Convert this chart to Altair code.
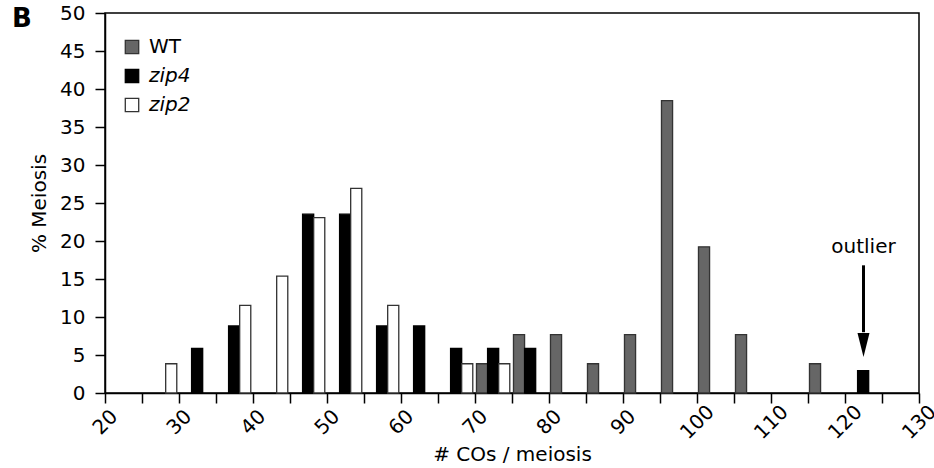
import altair as alt
import pandas as pd

series = ["WT", "zip4", "zip2"]
fills = ["#666666", "#000000", "#ffffff"]
strokes = ["#333333", "#000000", "#333333"]

wt_bins = [70, 75, 80, 85, 90, 95, 100, 105, 115]
wt_pct = [3.85, 7.69, 7.69, 3.85, 7.69, 38.46, 19.23, 7.69, 3.85]
zip4_bins = [30, 35, 45, 50, 55, 60, 65, 70, 75, 120]
zip4_pct = [5.88, 8.82, 23.53, 23.53, 8.82, 8.82, 5.88, 5.88, 5.88, 2.94]
zip2_bins = [25, 35, 40, 45, 50, 55, 65, 70]
zip2_pct = [3.85, 11.54, 15.38, 23.08, 26.92, 11.54, 3.85, 3.85]

x_ticks = list(range(20, 131, 5))
y_ticks = list(range(0, 51, 5))

ann_label = ["outlier"]
ann_x = [122.5]
ann_text_y = [18.4]
arrow_top = [16.8]
arrow_end = [8.0]
head_y = [6.3]

panel_label = ["B"]

rows = []
for s, bins, vals in [("WT", wt_bins, wt_pct), ("zip4", zip4_bins, zip4_pct), ("zip2", zip2_bins, zip2_pct)]:
    for b, v in zip(bins, vals):
        rows.append({"series": s, "bin": b, "pct": v})
df = pd.DataFrame(rows)

ann = pd.DataFrame({"label": ann_label, "x": ann_x, "ty": ann_text_y,
                    "y1": arrow_top, "y2": arrow_end, "hy": head_y})
panel = pd.DataFrame({"label": panel_label})

FONT = "DejaVu Sans"

xscale = alt.Scale(domain=[20, 130], nice=False, zero=False)
yscale = alt.Scale(domain=[0, 50], nice=False)

xaxis = alt.Axis(
    values=x_ticks, labelExpr="datum.value % 10 == 0 ? datum.label : ''",
    title="# COs / meiosis", labelAngle=-45, labelAlign="center",
    labelBaseline="middle", labelPadding=19, titlePadding=2, labelFlush=False,
    labelOverlap=False)
yaxis = alt.Axis(
    values=y_ticks, title="% Meiosis", labelPadding=10, titlePadding=10,
    labelOverlap=False, labelFlush=False)

legend = alt.Legend(
    title=None, orient="none", legendX=17, legendY=24,
    symbolType="square", symbolSize=180, symbolStrokeWidth=1.3,
    labelFont=FONT, labelFontSize=20, labelColor="black", labelOffset=7,
    rowPadding=9, padding=0,
    labelFontStyle=alt.ExprRef(expr="datum.label == 'WT' ? 'normal' : 'italic'"),
)

bars = alt.Chart(df).transform_calculate(
    x0="datum.bin + (datum.series == 'WT' ? 0.2 : (datum.series == 'zip4' ? 1.7 : 3.2))",
    x1="datum.bin + (datum.series == 'WT' ? 0.2 : (datum.series == 'zip4' ? 1.7 : 3.2)) + 1.5",
).mark_bar(strokeWidth=1.3).encode(
    x=alt.X("x0:Q", scale=xscale, axis=xaxis),
    x2="x1:Q",
    y=alt.Y("pct:Q", scale=yscale, axis=yaxis),
    y2=alt.datum(0),
    fill=alt.Fill("series:N", scale=alt.Scale(domain=series, range=fills), legend=legend),
    stroke=alt.Stroke("series:N", scale=alt.Scale(domain=series, range=strokes), legend=legend),
)

text = alt.Chart(ann).mark_text(font=FONT, fontSize=20, baseline="alphabetic", color="black").encode(
    x=alt.X("x:Q", scale=xscale, axis=xaxis), y=alt.Y("ty:Q", scale=yscale, axis=yaxis),
    text="label:N")

rule = alt.Chart(ann).mark_rule(strokeWidth=3, color="black").encode(
    x=alt.X("x:Q", scale=xscale, axis=xaxis), y=alt.Y("y1:Q", scale=yscale, axis=yaxis),
    y2="y2:Q")

head = alt.Chart(ann).mark_point(shape="M-0.5,-1L0.5,-1L0,1Z", filled=True, size=576,
                                 color="black", opacity=1, strokeWidth=0).encode(
    x=alt.X("x:Q", scale=xscale, axis=xaxis), y=alt.Y("hy:Q", scale=yscale, axis=yaxis))

blabel = alt.Chart(panel).mark_text(font=FONT, fontSize=26, fontWeight="bold", align="left",
                                    baseline="alphabetic", color="black").encode(
    x=alt.value(-93), y=alt.value(14), text="label:N")

chart = alt.layer(bars, rule, head, text, blabel).properties(
    width=814, height=380,
    autosize=alt.AutoSizeParams(type="none"),
    padding={"left": 105, "top": 13, "right": 15, "bottom": 75},
    background="white",
).configure_axis(
    domainColor="black", domainWidth=1.5, tickColor="black", tickWidth=1.5, tickSize=10,
    labelFont=FONT, labelFontSize=20, labelColor="black",
    titleFont=FONT, titleFontSize=20, titleFontWeight="normal", titleColor="black",
    grid=False,
).configure_view(stroke="black", strokeWidth=1.5)

chart.save("out.html", embed_options={"renderer": "svg", "actions": False})
